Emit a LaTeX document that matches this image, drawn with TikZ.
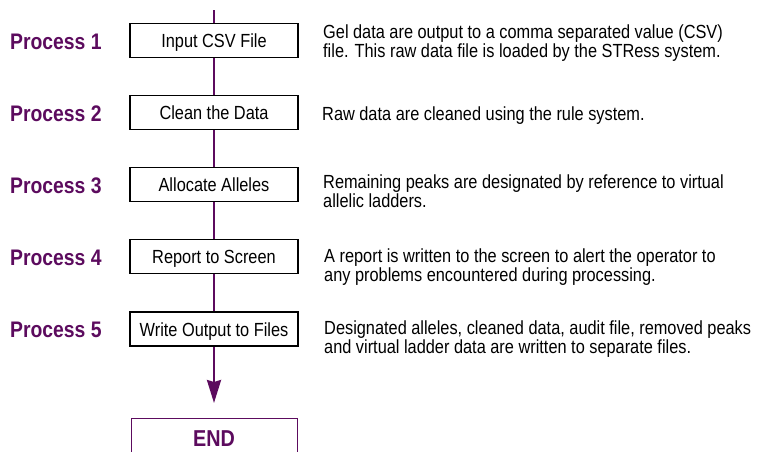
\documentclass[tikz,border=0pt]{standalone}
\usepackage{fontspec}
\setmainfont{Liberation Sans}[FakeStretch=0.86]
\usetikzlibrary{arrows.meta}
\definecolor{plum}{HTML}{5C0B5E}
\tikzset{
  x=1pt, y=-1pt,
  procbox/.style={draw=black, line width=1.1pt, fill=white, minimum width=168pt,
    minimum height=34pt, inner sep=0pt, text height=17pt, text depth=3pt,
    font=\fontsize{19}{19}\selectfont},
  endbox/.style={draw=plum, line width=1pt, minimum width=166pt, minimum height=40pt,
    inner sep=0pt, anchor=north, text=plum},
  proclabel/.style={anchor=base west, inner sep=0pt, text=plum,
    font=\fontsize{22.5}{22.5}\selectfont\bfseries},
  desc/.style={anchor=base west, inner sep=0pt, align=left,
    font=\fontsize{19}{17}\selectfont},
  flow/.style={draw=plum, line width=2.4pt},
}
\begin{document}
\begin{tikzpicture}
\useasboundingbox (0,0) rectangle (759,451);

% process boxes down the centre column
\node[procbox] (b1) at (214,40.5)  {Input CSV File};
\node[procbox] (b2) at (214,112.5) {Clean the Data};
\node[procbox] (b3) at (214,184.5) {Allocate Alleles};
\node[procbox] (b4) at (214,256.5) {Report to Screen};
\node[procbox] (b5) at (214,329)   {Write Output to Files};
\node[endbox] (end) at (214,418) {\fontsize{23}{23}\selectfont\bfseries END};
\coordinate (top) at (214,10);

% connectors
\draw[flow] (top) -- (b1.north);
\draw[flow] (b1) -- (b2);
\draw[flow] (b2) -- (b3);
\draw[flow] (b3) -- (b4);
\draw[flow] (b4) -- (b5);
\draw[flow, -{Stealth[length=23pt, width=14pt, inset=2pt]}, shorten >=15pt] (b5.south) -- (end.north);
% redraw boxes over the connector ends
\node[procbox] at (b1) {Input CSV File};
\node[procbox] at (b2) {Clean the Data};
\node[procbox] at (b3) {Allocate Alleles};
\node[procbox] at (b4) {Report to Screen};
\node[procbox] at (b5) {Write Output to Files};

% stage labels
\node[proclabel] (p1) at (10,49)  {Process 1};
\node[proclabel] (p2) at (10,121) {Process 2};
\node[proclabel] (p3) at (10,193) {Process 3};
\node[proclabel] (p4) at (10,265) {Process 4};
\node[proclabel] (p5) at (10,337) {Process 5};

% descriptions (anchored on the baseline of the last line)
\node[desc] (d1) at (323,57) {Gel data are output to a comma separated value (CSV)\\file. This raw data file is loaded by the STRess system.};
\node[desc] (d2) at (322,120) {Raw data are cleaned using the rule system.};
\node[desc] (d3) at (323,207) {Remaining peaks are designated by reference to virtual\\allelic ladders.};
\node[desc] (d4) at (324,281) {A report is written to the screen to alert the operator to\\any problems encountered during processing.};
\node[desc] (d5) at (324,353) {Designated alleles, cleaned data, audit file, removed peaks\\and virtual ladder data are written to separate files.};
\end{tikzpicture}
\end{document}
